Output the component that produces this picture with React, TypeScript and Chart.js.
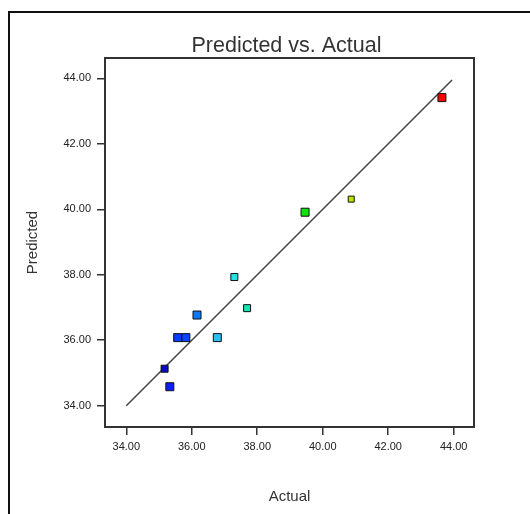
import React, { useEffect, useRef } from "react";
import { Chart, registerables } from "chart.js";

Chart.register(...registerables);

const actualValues = [35.17, 35.33, 35.57, 35.82, 36.16, 36.78, 37.3, 37.69, 39.46, 40.87, 43.64];
const predictedValues = [35.13, 34.58, 36.08, 36.08, 36.77, 36.08, 37.93, 36.98, 39.91, 40.31, 43.41];
const pointColors = ["#0a0ac8", "#0a1ef5", "#0a3cff", "#0a46ff", "#0a78ff", "#28c0f5", "#28e0e6", "#14e6b4", "#0ae60a", "#b4e60a", "#ff0000"];
const pointSides = [7, 8, 8, 8, 8, 8, 7, 7, 8, 6, 8];
const fitLineX = [34, 43.95];
const fitLineY = [34, 43.95];
const tickValues = [34, 36, 38, 40, 42, 44];
const axisMin = 33.35;
const axisMax = 44.62;
const chartTitle = "Predicted vs. Actual";

const FONT = "'Liberation Sans', Arial, sans-serif";

const framePlugin = {
  id: "frame",
  beforeDraw(chart: any) {
    const { ctx, width, height, chartArea } = chart;
    ctx.save();
    ctx.fillStyle = "#ffffff";
    ctx.fillRect(0, 0, width, height);
    ctx.strokeStyle = "#111111";
    ctx.lineWidth = 2;
    ctx.beginPath();
    ctx.moveTo(9, height);
    ctx.lineTo(9, 12);
    ctx.lineTo(width, 12);
    ctx.stroke();
    ctx.fillStyle = "#333333";
    ctx.font = `21.5px ${FONT}`;
    ctx.textAlign = "center";
    ctx.textBaseline = "middle";
    ctx.fillText(chartTitle, (chartArea.left + chartArea.right) / 2 - 3, 46);
    ctx.restore();
  },
  afterDatasetsDraw(chart: any) {
    const { ctx, chartArea } = chart;
    ctx.save();
    ctx.strokeStyle = "#333333";
    ctx.lineWidth = 2;
    ctx.strokeRect(chartArea.left, chartArea.top, chartArea.right - chartArea.left, chartArea.bottom - chartArea.top);
    ctx.restore();
  },
};

export default function App() {
  const ref = useRef<HTMLCanvasElement | null>(null);
  useEffect(() => {
    if (!ref.current) return;
    const setTicks = (scale: any) => {
      scale.ticks = tickValues.map((v) => ({ value: v }));
    };
    const chart = new Chart(ref.current, {
      type: "scatter",
      data: {
        datasets: [
          {
            data: actualValues.map((x, i) => ({ x, y: predictedValues[i] })),
            pointStyle: "rect",
            pointRadius: pointSides.map((s) => s / Math.SQRT2),
            pointBackgroundColor: pointColors,
            pointBorderColor: "#111111",
            pointBorderWidth: 1,
          },
          {
            type: "line",
            data: fitLineX.map((x, i) => ({ x, y: fitLineY[i] })),
            borderColor: "#444444",
            borderWidth: 1.5,
            pointRadius: 0,
            showLine: true,
          } as any,
        ],
      },
      options: {
        responsive: false,
        animation: false,
        layout: { padding: { left: 0, right: 56, top: 58, bottom: 0 } },
        plugins: {
          legend: { display: false },
          tooltip: { enabled: false },
          title: { display: false },
        },
        scales: {
          x: {
            type: "linear",
            min: axisMin,
            max: axisMax,
            afterBuildTicks: setTicks,
            afterFit: (scale: any) => {
              scale.height = 87;
            },
            grid: { drawOnChartArea: false, drawTicks: true, tickLength: 8, color: "#333333", lineWidth: 1.5 },
            border: { display: true, color: "#333333", width: 2 },
            ticks: {
              color: "#222222",
              font: { family: FONT, size: 11 },
              padding: 5,
              maxRotation: 0,
              callback: (v: any) => Number(v).toFixed(2),
            },
            title: {
              display: true,
              text: "Actual",
              color: "#333333",
              font: { family: FONT, size: 15 },
              padding: { top: 0, bottom: 8 },
            },
          },
          y: {
            type: "linear",
            min: axisMin,
            max: axisMax,
            afterBuildTicks: setTicks,
            afterFit: (scale: any) => {
              scale.width = 105;
            },
            grid: { drawOnChartArea: false, drawTicks: true, tickLength: 8, color: "#333333", lineWidth: 1.5 },
            border: { display: true, color: "#333333", width: 2 },
            ticks: {
              color: "#222222",
              font: { family: FONT, size: 11 },
              padding: 6,
              callback: (v: any) => Number(v).toFixed(2),
            },
            title: {
              display: true,
              text: "Predicted",
              color: "#333333",
              font: { family: FONT, size: 15 },
              padding: { top: 24, bottom: 0 },
            },
          },
        },
      },
      plugins: [framePlugin],
    });
    return () => chart.destroy();
  }, []);
  return (
    <div style={{ position: "fixed", left: 0, top: 0, width: 530, height: 514, background: "#fff" }}>
      <canvas ref={ref} width={530} height={514} style={{ display: "block" }} />
    </div>
  );
}
